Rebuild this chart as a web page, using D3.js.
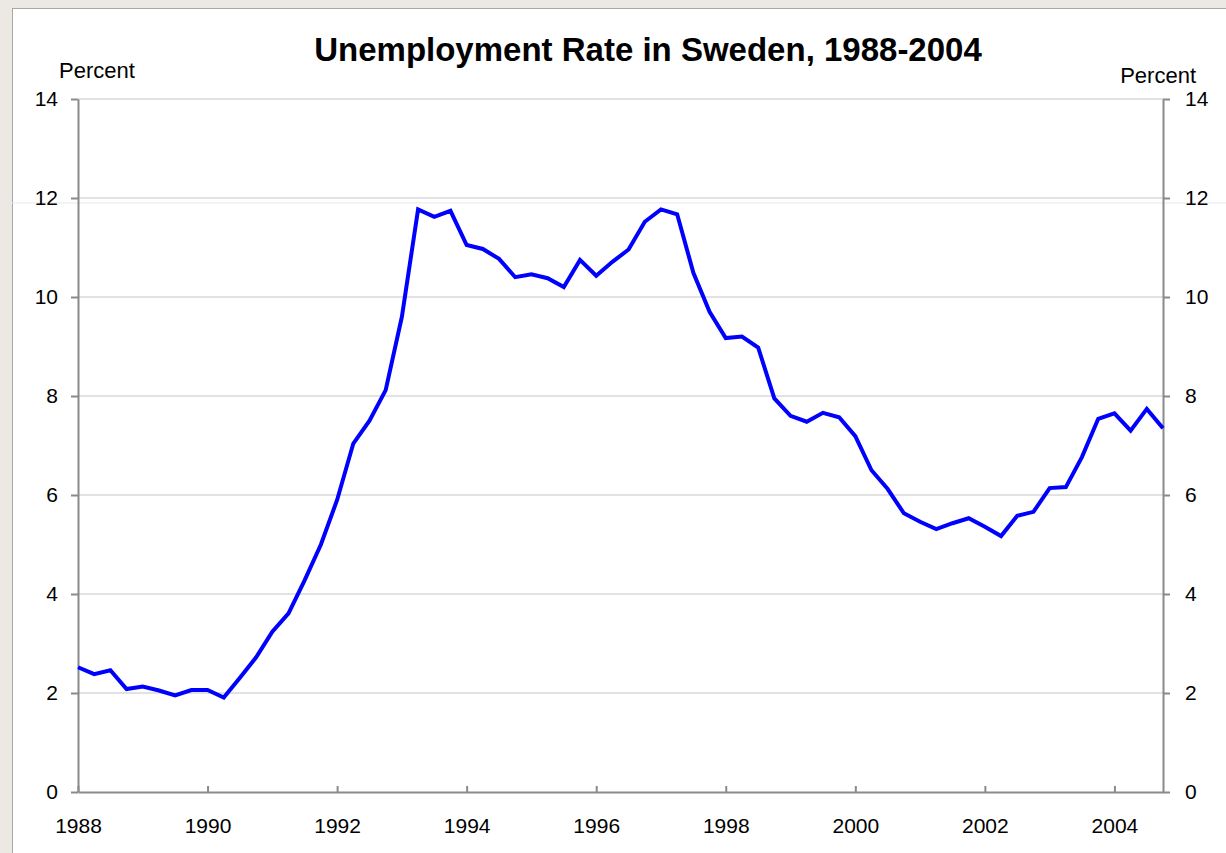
<!DOCTYPE html>
<html>
<head>
<meta charset="utf-8">
<script src="https://cdn.jsdelivr.net/npm/d3@7"></script>
<style>
  body { margin: 0; background: #ece9e4; }
  svg { display: block; }
  text { font-family: "Liberation Sans", Arial, sans-serif; fill: #000; }
</style>
</head>
<body>
<script>

var width = 1226, height = 853;

// quarterly, 1988 Q1 .. 2004 Q4
var startYear = 1988;
var rate = [
	2.52, 2.38, 2.46, 2.08, 2.13, 2.05, 1.95, 2.06,
	2.06, 1.91, 2.31, 2.72, 3.24, 3.61, 4.28, 5.00,
	5.90, 7.04, 7.50, 8.12, 9.60, 11.77, 11.62, 11.74,
	11.05, 10.97, 10.77, 10.40, 10.46, 10.38, 10.20, 10.75,
	10.43, 10.71, 10.96, 11.52, 11.77, 11.67, 10.49, 9.70,
	9.17, 9.20, 8.98, 7.95, 7.60, 7.48, 7.66, 7.57,
	7.19, 6.50, 6.12, 5.63, 5.46, 5.31, 5.43, 5.53,
	5.36, 5.17, 5.58, 5.66, 6.14, 6.16, 6.77, 7.54,
	7.65, 7.30, 7.74, 7.35
];
var yearTicks = [1988, 1990, 1992, 1994, 1996, 1998, 2000, 2002, 2004];
var pctTicks = [0, 2, 4, 6, 8, 10, 12, 14];

var title = "Unemployment Rate in Sweden, 1988-2004";
var unitLabel = "Percent";

var margin = {top: 99, right: 63, bottom: 61, left: 78};

var svg = d3.select("body").append("svg")
	.attr("width", width)
	.attr("height", height);

// white panel
svg.append("rect")
	.attr("x", 12.5).attr("y", 8.5)
	.attr("width", width).attr("height", height)
	.attr("fill", "#fff")
	.attr("stroke", "#a8a8a8");

var x = d3.scaleLinear()
	.domain([startYear, startYear + (rate.length - 1) / 4])
	.range([margin.left, width - margin.right]);
var y = d3.scaleLinear()
	.domain([0, 14])
	.range([height - margin.bottom, margin.top]);

// gridlines
svg.append("g").selectAll("line")
	.data(pctTicks.filter(function(d){ return d > 0; }))
	.enter().append("line")
	.attr("x1", x.range()[0]).attr("x2", x.range()[1])
	.attr("y1", function(d){ return y(d); })
	.attr("y2", function(d){ return y(d); })
	.attr("stroke", "#d9d9d9")
	.attr("stroke-width", 1.5);

// faint stray line seen in the picture just under 12
svg.append("line")
	.attr("x1", 0).attr("x2", width)
	.attr("y1", y(11.9)).attr("y2", y(11.9))
	.attr("stroke", "#e8e8e8");

function styleAxis(g){
	g.selectAll("path, line").attr("stroke", "#8a8a8a").attr("stroke-width", 2);
	g.selectAll("text").attr("font-size", 21)
		.style("font-family", "'Liberation Sans', Arial, sans-serif");
}

svg.append("g")
	.attr("transform", "translate(0," + y(0) + ")")
	.call(d3.axisBottom(x).tickValues(yearTicks).tickFormat(d3.format("d"))
		.tickSizeInner(-6).tickSizeOuter(0).tickPadding(26))
	.call(styleAxis);

svg.append("g")
	.attr("transform", "translate(" + x.range()[0] + ",0)")
	.call(d3.axisLeft(y).tickValues(pctTicks).tickSizeInner(7).tickSizeOuter(0).tickPadding(13))
	.call(styleAxis);

svg.append("g")
	.attr("transform", "translate(" + x.range()[1] + ",0)")
	.call(d3.axisRight(y).tickValues(pctTicks).tickSizeInner(7).tickSizeOuter(0).tickPadding(15))
	.call(styleAxis);

// the series
var line = d3.line()
	.x(function(d, i){ return x(startYear + i / 4); })
	.y(function(d){ return y(d); });

svg.append("path")
	.datum(rate)
	.attr("d", line)
	.attr("fill", "none")
	.attr("stroke", "#0000ff")
	.attr("stroke-width", 4)
	.attr("stroke-linejoin", "miter");

// titles
svg.append("text")
	.attr("x", 648).attr("y", 61)
	.attr("text-anchor", "middle")
	.attr("font-size", 33)
	.attr("font-weight", "bold")
	.text(title);

svg.append("text")
	.attr("x", 59).attr("y", 78)
	.attr("font-size", 22)
	.text(unitLabel);

svg.append("text")
	.attr("x", 1196).attr("y", 83)
	.attr("text-anchor", "end")
	.attr("font-size", 22)
	.text(unitLabel);

</script>
</body>
</html>
